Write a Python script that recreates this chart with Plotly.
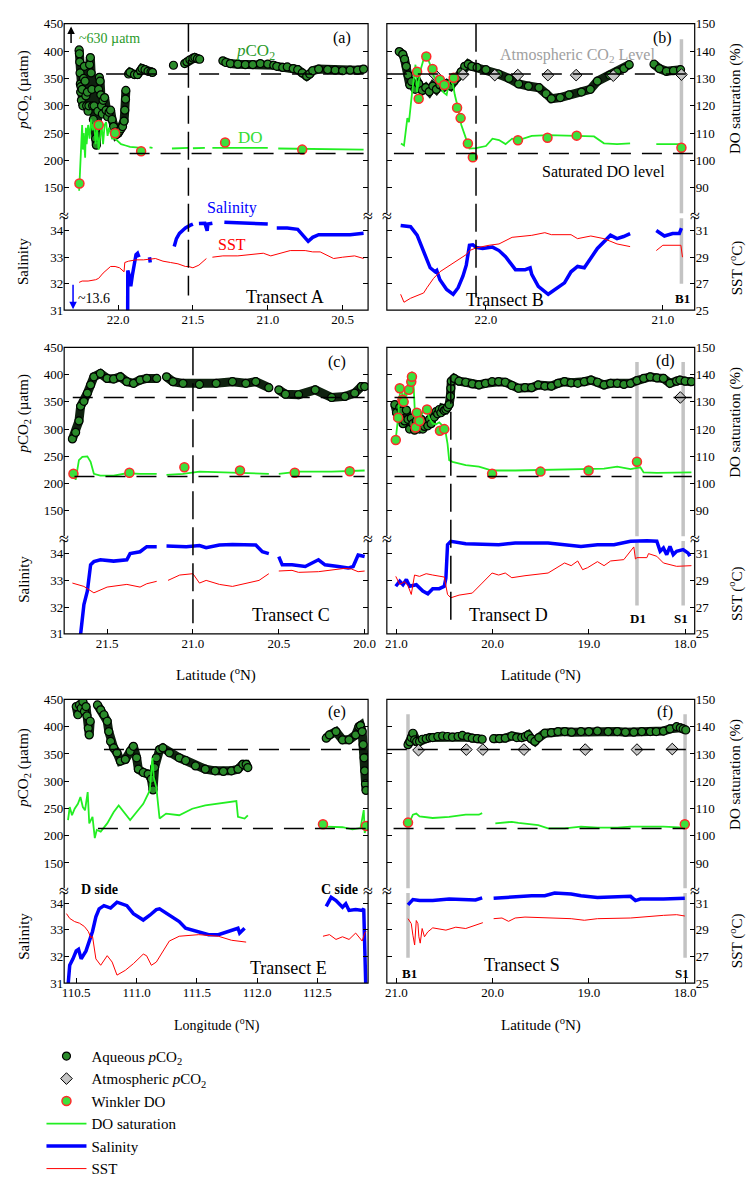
import plotly.graph_objects as go

# ---------------- DATA ----------------
# Panel (a) Transect A
a_pco2_lat = [22.26,22.258,22.256,22.254,22.252,22.25,22.248,22.245,22.24,22.235,22.23,22.225,22.22,22.215,22.21,22.205,22.2,22.195,22.19,22.185,22.18,22.175,22.17,22.165,22.16,22.155,22.15,22.145,22.14,22.135,22.13,22.125,22.12,22.115,22.11,22.105,22.1,22.09,22.08,22.07,22.06,22.05,22.04,22.03,22.02,22.01,22.0,21.99,21.98,21.97,21.96,21.955,21.95,21.948,None,21.93,21.92,21.89,21.87,21.85,21.84,21.82,21.80,21.78,21.77,None,21.63,None,21.555,21.54,21.52,21.50,21.487,21.47,21.455,None,21.30,21.28,21.25,21.20,21.15,21.10,21.05,21.00,20.96,None,20.94,20.90,20.87,20.83,20.80,20.77,20.74,20.72,20.70,20.66,20.60,20.55,20.50,20.45,20.40,20.36]
a_pco2 = [402,395,380,360,340,325,335,310,330,300,350,372,345,318,300,325,290,300,375,388,360,330,300,275,300,262,240,228,260,290,330,352,345,320,300,285,310,315,292,280,288,292,275,262,252,248,250,254,258,262,272,292,312,328,None,358,361,357,357,364,368,366,363,362,361,None,374,None,377,380,384,387,388,386,385,None,382,379,377,376,375,375,377,376,374,None,372,370,371,368,366,360,354,358,364,367,366,365,364,365,365,367]
a_do_lat = [22.26,22.255,22.25,22.245,22.24,22.235,22.23,22.22,22.215,22.21,22.2,22.19,22.18,22.17,22.16,22.15,22.14,22.13,22.12,22.11,22.1,22.09,22.08,22.07,22.06,22.05,22.04,22.02,22.0,21.98,21.95,21.92,21.88,21.85,None,21.79,21.77,None,21.64,21.58,21.53,None,21.50,21.42,None,21.37,21.2,21.0,None,20.93,20.7,20.5,20.36]
a_do = [89,94,100,108,113,104,110,101,112,106,113,108,115,111,114,106,112,104,108,113,106,113,114,109,112,110,108,108,107,106,105.5,105,104.8,104.6,None,104.8,104.6,None,104.4,104.5,104.6,None,104.5,104.6,None,104.6,104.7,104.6,None,104.4,104.3,104.2,104.0]
a_wink_lat = [22.258,22.129,22.02,21.846,21.285,20.77]
a_wink = [91.6,113,110,103.4,106.6,104]
a_sal_lat = [21.945,21.94,21.935,21.925,21.915,21.905,21.895,21.88,21.87,21.86,None,21.79,21.785,None,21.63,None,21.625,21.61,21.59,21.57,21.55,21.52,21.50,None,21.46,21.42,21.405,21.40,21.37,None,21.29,21.2,21.1,21.0,None,20.94,20.87,20.80,20.76,20.73,20.70,20.66,20.55,20.45,20.36]
a_sal = [13.6,31.5,32.5,32.3,31.9,32.3,32.7,33.1,33.15,33.0,None,33.0,32.8,None,33.1,None,33.4,33.7,33.9,34.0,34.1,34.2,34.25,None,34.27,34.28,34.0,34.25,34.28,None,34.32,34.3,34.28,34.25,None,34.1,34.1,34.05,33.8,33.6,33.75,33.85,33.85,33.85,33.9]
a_sst_lat = [22.26,22.24,22.20,22.15,22.13,22.10,22.05,22.02,21.99,21.96,21.955,21.93,21.88,21.83,21.75,21.70,21.65,21.60,21.55,21.53,21.50,21.46,21.41,None,21.37,21.30,21.20,21.10,21.03,20.98,20.92,20.85,20.75,20.70,20.65,20.56,20.50,20.42,20.36]
a_sst = [27.1,27.2,27.2,27.3,27.4,27.8,28.3,28.3,28.2,27.9,28.6,28.7,28.8,28.8,28.9,28.7,28.6,28.5,28.3,28.3,28.2,28.4,28.9,None,29.0,29.1,29.1,29.2,29.3,29.1,29.3,29.5,29.5,29.4,29.4,28.9,29.0,29.1,28.9]

# Panel (b) Transect B
b_pco2_lat = [22.49,22.47,22.46,22.45,22.44,22.43,22.42,22.40,22.38,22.36,22.34,22.32,22.30,22.28,22.26,22.24,22.22,22.20,22.18,22.16,22.14,22.12,22.10,22.08,22.05,22.00,21.93,21.87,21.815,21.76,21.70,21.66,21.63,21.58,21.53,21.46,21.41,21.37,21.30,21.26,21.22,21.19,None,21.05,21.02,20.98,20.94,20.90]
b_pco2 = [399,394,385,372,356,338,344,330,340,328,333,326,336,330,338,334,340,336,345,352,362,372,376,372,370,366,358,350,340,336,333,322,313,315,320,325,330,345,356,362,368,375,None,376,368,363,364,366]
b_atm_lat = [22.29,22.13,21.95,21.82,21.65,21.49,21.28,20.895]
b_atm = [357,357,356,356,356,356,355,357]
b_do_lat = [22.48,22.463,22.444,22.435,22.417,22.398,22.389,22.37,22.352,22.333,22.315,22.296,22.278,22.26,22.241,22.222,22.204,22.185,22.176,22.157,22.139,22.111,22.093,22.056,22.0,21.963,21.926,21.889,21.852,21.815,21.741,21.648,21.482,21.389,21.333,21.259,21.185,None,21.037,20.895]
b_do = [106.2,105.5,115.5,114,125,135,125,133,137,138,135,131,129,127.5,125,124,130,127.5,124,119,113,107.5,104.4,104.5,105.3,108,107.5,106,108,107.5,109,109.3,109,108.8,106.3,106,106.3,None,106,106]
b_wink_lat = [22.389,22.38,22.337,22.302,22.26,22.235,22.182,22.163,22.143,22.102,22.074,21.819,21.652,21.487,20.895]
b_wink = [132.4,122.6,138,133.4,129.5,127.6,130.2,119.3,115.5,106.2,101.2,107.4,108.3,109.1,104.7]
b_sal_lat = [22.482,22.426,22.389,22.352,22.315,22.287,22.278,22.26,22.222,22.185,22.157,22.13,22.111,22.093,22.074,22.056,22.019,21.963,21.926,21.889,21.87,21.833,21.778,21.75,21.741,21.704,21.648,21.593,21.556,21.519,21.482,21.444,21.407,21.37,21.296,21.259,21.222,21.185,None,21.037,20.991,20.945,20.907,20.895]
b_sal = [34.2,34.15,33.83,33.2,32.6,32.45,32.5,32.15,31.78,31.6,31.85,32.28,32.7,33.45,33.47,33.37,33.33,33.38,33.25,33.02,32.85,32.53,32.53,32.6,32.35,31.9,31.6,31.85,32.03,32.45,32.65,32.6,32.96,33.33,33.83,33.7,33.78,33.89,None,34.01,33.8,33.89,33.89,34.1]
b_sst_lat = [22.482,22.463,22.426,22.352,22.333,22.296,22.26,22.204,22.148,22.111,22.093,22.056,21.982,21.926,21.852,21.741,21.667,21.63,21.519,21.482,21.407,21.333,21.259,21.185,None,21.037,21.0,20.898,20.889]
b_sst = [26.2,25.6,25.9,26.3,26.7,27.4,27.9,28.4,28.9,29.2,29.5,29.7,29.9,30.0,30.5,30.65,30.85,30.7,30.7,30.4,30.6,30.4,30.0,29.8,None,29.5,29.9,29.9,29.0]

# Panel (c) Transect C
c_pco2_lat = [21.702,21.683,21.664,21.654,21.635,21.615,21.596,21.577,21.539,21.5,21.462,21.423,21.385,21.346,21.308,21.269,21.211,None,21.154,21.116,21.058,20.962,20.865,20.77,20.692,20.634,20.558,None,20.5,20.461,20.385,20.288,20.192,20.115,20.058,20.019,20.0]
c_pco2 = [282,294,315,342,351,366,381,396,402,393,392,396,387,384,390,393,393,None,396,387,384,382,384,387,384,387,376,None,372,364,363,372,358,360,366,378,378]
c_do_lat = [21.696,21.683,21.664,21.644,21.615,21.596,21.577,21.539,21.462,21.385,21.308,21.211,None,21.154,21.058,20.962,20.77,20.558,None,20.5,20.423,20.385,20.192,20.0]
c_do = [103.8,101.4,108.6,109.8,110,108,103.6,102.9,102.9,103.8,103.6,103.6,None,103.2,103.6,104.4,104,103.6,None,103.6,104,104.4,104.4,104.8]
c_wink_lat = [21.696,21.37,21.05,20.726,20.407,20.087]
c_wink = [103.6,104,106,104.8,104,104.5]
c_sal_lat = [21.66,21.654,21.635,21.615,21.596,21.577,21.539,21.462,21.385,21.366,21.308,21.269,21.211,None,21.154,21.039,20.962,20.923,20.846,20.77,20.634,20.596,20.558,None,20.5,20.48,20.423,20.346,20.269,20.231,20.154,20.096,20.067,20.038,20.0]
c_sal = [30.5,31.0,32.1,32.6,33.58,33.7,33.77,33.72,33.77,34.0,34.07,34.26,34.26,None,34.28,34.26,34.3,34.22,34.32,34.34,34.32,34.07,34.0,None,33.89,33.58,33.58,33.52,33.77,33.58,33.52,33.46,33.52,33.95,33.89]
c_sst_lat = [21.702,21.635,21.577,21.539,21.5,21.385,21.308,21.269,21.211,None,21.145,21.077,21.0,20.962,20.923,20.846,20.77,20.692,20.615,20.558,None,20.5,20.423,20.385,20.269,20.115,20.077,20.038,20.0]
c_sst = [28.8,28.55,28.07,28.3,28.5,28.7,28.5,28.75,28.93,None,29.0,29.4,29.5,28.8,29.0,28.7,28.55,28.8,29.0,29.5,None,29.7,29.75,29.6,29.65,29.9,29.85,29.65,29.7]

# Panel (d) Transect D
d_pco2_lat = [21.017,21.0,20.983,20.966,20.949,20.932,20.915,20.897,20.88,20.863,20.846,20.829,20.812,20.794,20.777,20.76,20.743,20.726,20.709,20.691,20.674,20.657,20.64,20.623,20.606,20.589,20.572,20.555,20.538,20.52,20.503,20.486,20.469,20.452,20.44,20.435,20.43,20.401,20.35,20.28,20.212,20.143,20.075,20.006,19.938,19.869,19.801,19.732,19.664,19.595,19.527,19.458,19.39,19.321,19.253,19.185,19.116,19.047,18.978,18.91,18.842,18.774,18.705,18.636,18.567,18.5,18.43,18.362,18.293,18.225,18.157,18.088,18.054,18.0,17.934]
d_pco2 = [345,330,321,340,333,310,315,335,318,300,320,310,298,315,306,300,318,300,305,312,306,318,310,327,322,332,328,336,330,338,334,336,340,345,360,375,388,393,388,386,383,381,384,387,387,386,380,375,376,376,381,379,379,384,387,385,384,387,390,386,381,384,384,382,384,389,393,396,394,393,384,388,390,388,387]
d_atm_lat = [18.05]
d_atm = [358]
d_do_lat = [21.007,20.983,20.966,20.949,20.932,20.915,20.897,20.863,20.836,20.822,20.801,20.788,20.76,20.743,20.708,20.691,20.657,20.623,20.589,20.555,20.52,20.486,20.469,20.452,20.418,20.28,20.143,20.006,19.766,19.424,19.082,18.842,18.705,18.567,18.465,18.431,18.294,18.1,17.934]
d_do = [116.4,124.2,132.6,135,130,133.8,132,138.6,141,136.2,120.6,125.4,124.2,125,127.2,127,124,122,121.8,122.5,121.2,118.2,114.6,108.6,108,106.8,106.2,104.8,104.8,105,105.2,105.5,106.2,105.3,106,104.1,103.9,104,104.1]
d_wink_lat = [21.007,20.983,20.966,20.938,20.925,20.870,20.846,20.839,20.801,20.788,20.760,20.682,20.548,20.503,20.006,19.503,19.003,18.5]
d_wink = [116,124.2,135,130.8,130,134.4,137.4,139.2,120.6,126,123,127.2,119.4,120,103.6,104.4,104.8,108]
d_sal_lat = [21.007,20.966,20.932,20.897,20.863,20.794,20.726,20.674,20.623,20.555,20.503,20.486,20.469,20.435,20.28,19.938,19.766,19.424,19.082,18.911,18.739,18.567,18.397,18.294,18.259,18.225,18.191,18.157,18.123,18.088,18.02,17.968,17.951]
d_sal = [32.78,32.97,32.84,33.03,32.78,32.84,32.6,32.5,32.69,32.69,32.78,33.09,34.33,34.46,34.37,34.33,34.4,34.4,34.27,34.33,34.33,34.46,34.48,34.46,34.09,34.21,33.96,34.27,33.96,34.09,34.15,34.02,33.9]
d_sst_lat = [21.007,20.966,20.915,20.88,20.846,20.812,20.76,20.691,20.623,20.503,20.469,20.435,20.349,20.212,20.109,20.006,19.938,19.869,19.801,19.664,19.424,19.253,19.184,19.116,19.065,19.013,18.911,18.842,18.774,18.637,18.533,18.516,18.5,18.397,18.38,18.294,18.225,18.088,17.934]
d_sst = [29.3,28.7,28.9,28.6,27.95,29.4,29.3,29.5,29.4,29.25,27.95,27.7,27.9,28.05,28.8,29.55,29.4,29.55,29.2,29.35,29.55,30.3,30.1,30.45,29.8,29.95,30.4,30.1,30.45,30.55,31.5,30.6,30.7,30.7,31.0,30.8,30.3,30.05,30.1]

# Panel (e) Transect E (longitude)
e_pco2_lon = [110.5,110.514,110.527,110.541,110.555,110.568,110.581,110.589,110.6,110.608,110.616,None,110.676,110.703,110.73,110.757,110.77,110.785,110.811,110.838,110.866,110.907,110.947,110.974,111.001,111.015,111.056,111.096,111.123,111.137,111.15,111.164,111.191,111.218,111.272,111.354,111.407,111.489,111.57,111.652,111.72,111.787,111.841,111.882,111.909,111.923,None,112.573,112.6,112.654,112.708,112.762,112.817,112.844,112.857,112.871,112.879,112.887,112.892,112.898,112.903]
e_pco2 = [437,422,440,434,446,428,437,420,397,385,410,None,440,431,422,410,391,373,361,352,337,340,355,364,343,322,316,313,304,284,325,343,358,361,352,343,338,328,322,319,318,319,322,331,331,325,None,379,385,391,376,376,385,400,402,391,367,343,319,295,283]
e_do_lon = [110.432,110.446,110.465,110.487,110.514,110.535,110.555,110.573,110.595,110.608,110.635,110.654,110.67,110.703,110.757,110.811,110.852,110.893,110.947,111.001,111.056,111.11,111.132,111.143,111.164,111.191,111.245,111.354,111.462,111.57,111.679,111.787,111.828,111.841,111.896,111.923,None,112.573,112.708,112.79,112.857,112.884,112.892,112.903]
e_do = [105.7,110.5,107.5,109.9,111.7,114.2,110.5,109.3,116,104.5,106.9,99.1,102.1,101.5,104.5,108.7,111.1,108.7,105.7,108.7,111.7,116.6,128.6,121.4,117.8,106.3,108.1,107.5,109.9,111.1,111.7,112.4,112.7,106.9,106.3,107.5,None,103.3,103.1,102.3,102.8,109.4,101,103]
e_wink_lon = [112.546,112.903]
e_wink = [104.2,103.6]
e_sal_lon = [110.432,110.446,110.473,110.5,110.519,110.541,110.581,110.608,110.635,110.663,110.69,110.73,110.785,110.838,110.92,110.974,111.056,111.11,111.164,111.191,111.272,111.354,111.407,111.516,111.598,111.679,111.76,111.841,111.855,111.896,None,112.573,112.614,112.654,112.708,112.735,112.762,112.817,112.871,112.884,112.892,112.903]
e_sal = [30.9,31.67,31.91,32.21,32.27,31.91,32.21,32.58,32.94,33.49,33.79,33.91,33.82,34.04,33.91,33.61,33.37,33.55,33.76,33.79,33.55,33.31,33.06,32.94,32.82,32.82,32.94,33.06,32.88,33.06,None,33.88,34.22,34.1,33.85,33.98,33.73,33.76,33.73,33.79,32.27,30.5]
e_sst_lon = [110.419,110.446,110.487,110.527,110.568,110.6,110.622,110.635,110.663,110.703,110.757,110.798,110.838,110.907,110.974,111.056,111.083,111.123,111.164,111.218,111.272,111.354,111.516,111.679,111.787,111.909,None,112.546,112.6,112.654,112.708,112.762,112.817,112.871,112.892,112.903]
e_sst = [30.22,29.86,29.62,29.5,29.25,28.88,28.4,28.52,26.82,26.34,27.06,26.58,25.6,25.96,26.46,27.18,27.06,26.34,26.58,27.42,28.16,28.52,28.64,28.52,28.22,28.08,None,28.52,28.64,28.28,28.48,28.28,28.76,28.16,28.76,28.88]

# Panel (f) Transect S
f_pco2_lat = [20.88,20.86,20.845,20.829,20.811,20.79,20.76,20.73,20.691,20.65,20.623,20.57,20.52,20.47,20.418,20.36,20.315,20.26,20.212,20.16,20.109,None,19.99,19.93,19.869,19.801,19.75,19.698,19.66,19.63,19.6,19.561,19.52,19.458,19.39,19.321,19.25,19.18,19.082,19.0,18.911,18.8,18.705,18.62,18.533,18.45,18.362,18.3,18.225,18.157,18.088,18.05,18.02,17.993]
f_pco2 = [367,372,380,388,376,373,373,377,378,380,380,382,383,382,381,382,384,381,379,378,377,None,378,378,379,383,380,380,382,385,378,373,380,388,389,391,391,390,391,391,392,391,391,390,390,391,391,391,392,396,400,398,396,394]
f_atm_lat = [20.771,20.274,20.102,19.675,19.038,18.5,18.133]
f_atm = [357,358,358,358,358,358,359]
f_do_lat = [20.863,20.829,20.794,20.76,20.623,20.452,20.28,20.143,20.109,None,19.972,19.869,19.801,19.732,19.63,19.527,19.424,19.253,19.082,18.911,18.705,18.567,18.397,18.225,18.003]
f_do = [105.1,107.7,108.1,107.1,106.5,106.9,107.7,107.7,108.3,None,104.5,104.7,105.1,104.7,104.2,103.9,102.7,102.7,103.3,103.0,103.0,103.3,103.3,103.3,103.0]
f_wink_lat = [20.88,18.003]
f_wink = [104.8,104.2]
f_sal_lat = [20.88,20.829,20.76,20.623,20.452,20.28,20.178,20.109,None,19.99,19.766,19.595,19.458,19.356,19.184,19.082,18.911,18.705,18.567,18.516,18.465,18.225,18.003]
f_sal = [33.94,34.14,34.1,34.1,34.16,34.14,34.12,34.2,None,34.19,34.25,34.28,34.28,34.38,34.35,34.28,34.22,34.26,34.26,34.1,34.16,34.16,34.19]
f_sst_lat = [20.88,20.846,20.829,20.811,20.794,20.777,20.767,20.753,20.733,20.709,20.674,20.623,20.486,20.383,20.28,20.212,20.143,20.102,None,19.99,19.903,19.835,19.766,19.664,19.424,19.184,19.047,18.911,18.567,18.465,18.225,18.088,18.003]
f_sst = [29.84,29.47,28.6,27.86,29.7,29.47,28.48,28.0,29.1,28.48,28.85,29.15,28.98,29.2,29.1,29.27,29.47,29.54,None,29.84,29.89,29.64,29.89,29.96,29.89,29.84,29.72,29.84,29.89,29.96,30.09,30.14,30.04]

ATM_PCO2_LEVEL = 358      # atmospheric CO2 reference line (uatm)
DO_SAT_LEVEL = 102.6      # saturated DO level (%)

# Reference markers (positions on the x axis)
VLINE = {1: 21.53, 2: 22.056, 3: 21.0, 4: 20.435}
STATIONS = {2: [20.895], 4: [18.5, 18.02], 6: [20.88, 18.0]}

# ---------------- LAYOUT GEOMETRY ----------------
W, H = 755, 1185
def px(x): return x / W
def py(y): return 1 - y / H

COLS = [(63, 371), (390, 702)]
ROWS = [(17, 213, 310), (348, 543, 641), (708, 903, 998)]
XRANGES = {1: [22.36, 20.33], 2: [22.56, 20.82], 3: [21.75, 19.98],
           4: [21.1, 17.9], 5: [110.40, 112.92], 6: [21.1, 17.9]}
XTICKS = {1: [22.0, 21.5, 21.0, 20.5], 2: [22.0, 21.0], 3: [21.5, 21.0, 20.5, 20.0],
          4: [21.0, 20.0, 19.0, 18.0], 5: [110.5, 111.0, 111.5, 112.0, 112.5], 6: [21.0, 20.0, 19.0, 18.0]}
SALTOP = {0: 34.58, 1: 34.58, 2: 34.49}
HDASH = {1: ([22.08, 20.36], [22.13, 20.36]), 2: ([22.56, 20.82], [22.52, 20.82]),
         3: ([21.70, 20.0], [21.69, 20.0]), 4: ([21.02, 17.93], [21.02, 17.93]),
         5: ([110.73, 112.9], [110.68, 112.9]), 6: ([21.1, 17.9], [21.03, 18.0])}

FONT = 'Liberation Serif, Times New Roman, serif'
PCO2_FILL = '#2a8a2a'
RIBBON = '#0f220f'
DO_GREEN = '#22ee22'

fig = go.Figure()

panels = {
    1: (a_pco2_lat, a_pco2, None, None, a_do_lat, a_do, a_wink_lat, a_wink, a_sal_lat, a_sal, a_sst_lat, a_sst),
    2: (b_pco2_lat, b_pco2, b_atm_lat, b_atm, b_do_lat, b_do, b_wink_lat, b_wink, b_sal_lat, b_sal, b_sst_lat, b_sst),
    3: (c_pco2_lat, c_pco2, None, None, c_do_lat, c_do, c_wink_lat, c_wink, c_sal_lat, c_sal, c_sst_lat, c_sst),
    4: (d_pco2_lat, d_pco2, d_atm_lat, d_atm, d_do_lat, d_do, d_wink_lat, d_wink, d_sal_lat, d_sal, d_sst_lat, d_sst),
    5: (e_pco2_lon, e_pco2, None, None, e_do_lon, e_do, e_wink_lon, e_wink, e_sal_lon, e_sal, e_sst_lon, e_sst),
    6: (f_pco2_lat, f_pco2, f_atm_lat, f_atm, f_do_lat, f_do, f_wink_lat, f_wink, f_sal_lat, f_sal, f_sst_lat, f_sst),
}

def aid(prefix, n):
    return prefix if n == 1 else f'{prefix}{n}'

shapes = []
annotations = []
layout_axes = {}
legend_done = set()

def leg(name):
    if name in legend_done:
        return False
    legend_done.add(name)
    return True

RANK = {'Aqueous': 1, 'Atm': 2, 'Wink': 3, 'DO': 4, 'Sal': 5, 'SST': 6}

for k in range(1, 7):
    row = (k - 1) // 2
    col = (k - 1) % 2
    x0, x1 = COLS[col]
    yt, yb_, ybt = ROWS[row]
    xa = aid('x', k)
    nu, ndo, nl, nsst = 4 * k - 3, 4 * k - 2, 4 * k - 1, 4 * k
    yu, ydo, yl, ysst = aid('y', nu), aid('y', ndo), aid('y', nl), aid('y', nsst)
    st = SALTOP[row]
    sst_top = 25 + 2 * (st - 31)

    tickfont = dict(family=FONT, size=13, color='black')
    layout_axes[aid('xaxis', k)] = dict(
        domain=[px(x0), px(x1)], anchor=yl, range=XRANGES[k], tickvals=XTICKS[k],
        tickformat='.1f', ticks='inside', ticklen=5, tickcolor='black', showgrid=False,
        zeroline=False, showline=False, tickfont=tickfont)
    layout_axes[aid('yaxis', nu)] = dict(
        domain=[py(yb_), py(yt)], anchor=xa, range=[100, 450],
        tickvals=[150, 200, 250, 300, 350, 400, 450], ticks='inside', ticklen=5,
        tickcolor='black', showgrid=False, zeroline=False, showline=False,
        showticklabels=(col == 0), tickfont=tickfont)
    layout_axes[aid('yaxis', ndo)] = dict(
        overlaying=yu, side='right', anchor=xa, range=[80, 150],
        tickvals=[90, 100, 110, 120, 130, 140, 150], ticks='inside', ticklen=5,
        tickcolor='black', showgrid=False, zeroline=False, showline=False,
        showticklabels=(col == 1), tickfont=tickfont)
    layout_axes[aid('yaxis', nl)] = dict(
        domain=[py(ybt), py(yb_)], anchor=xa, range=[31, st],
        tickvals=[31, 32, 33, 34], ticks='inside', ticklen=5, tickcolor='black',
        showgrid=False, zeroline=False, showline=False,
        showticklabels=(col == 0), tickfont=tickfont)
    layout_axes[aid('yaxis', nsst)] = dict(
        overlaying=yl, side='right', anchor=xa, range=[25, sst_top],
        tickvals=[25, 27, 29, 31], ticks='inside', ticklen=5, tickcolor='black',
        showgrid=False, zeroline=False, showline=False,
        showticklabels=(col == 1), tickfont=tickfont)

    (pxs, pys, axs, ays, dxs, dys, wxs, wys, sxs, sys_, txs, tys) = panels[k]

    # aqueous pCO2 ribbon + markers
    fig.add_trace(go.Scatter(x=pxs, y=pys, xaxis=xa, yaxis=yu, mode='lines',
                             line=dict(color=RIBBON, width=9), showlegend=False,
                             hoverinfo='skip'))
    fig.add_trace(go.Scatter(x=pxs, y=pys, xaxis=xa, yaxis=yu, mode='markers',
                             marker=dict(size=8, color=PCO2_FILL, line=dict(color='black', width=1.2)),
                             name='Aqueous <i>p</i>CO<sub>2</sub>', showlegend=leg('Aqueous'),
                             legendrank=RANK['Aqueous']))
    if axs is not None:
        fig.add_trace(go.Scatter(x=axs, y=ays, xaxis=xa, yaxis=yu, mode='markers',
                                 marker=dict(size=9, symbol='diamond', color='#c4c4c4',
                                             line=dict(color='black', width=1)),
                                 name='Atmospheric <i>p</i>CO<sub>2</sub>', showlegend=leg('Atm'),
                                 legendrank=RANK['Atm']))
    # DO saturation
    fig.add_trace(go.Scatter(x=dxs, y=dys, xaxis=xa, yaxis=ydo, mode='lines',
                             line=dict(color=DO_GREEN, width=1.8),
                             name='DO saturation', showlegend=leg('DO'), legendrank=RANK['DO']))
    fig.add_trace(go.Scatter(x=wxs, y=wys, xaxis=xa, yaxis=ydo, mode='markers',
                             marker=dict(size=9, color='#3ce03c', line=dict(color='#ff2a2a', width=1.5)),
                             name='Winkler DO', showlegend=leg('Wink'), legendrank=RANK['Wink']))
    # Salinity, SST
    fig.add_trace(go.Scatter(x=sxs, y=sys_, xaxis=xa, yaxis=yl, mode='lines',
                             line=dict(color='#0000ff', width=3.5),
                             name='Salinity', showlegend=leg('Sal'), legendrank=RANK['Sal']))
    fig.add_trace(go.Scatter(x=txs, y=tys, xaxis=xa, yaxis=ysst, mode='lines',
                             line=dict(color='#ff0000', width=1),
                             name='SST', showlegend=leg('SST'), legendrank=RANK['SST']))

    # horizontal reference lines
    (ha, hb) = HDASH[k]
    shapes.append(dict(type='line', xref=xa, yref=yu, x0=ha[0], x1=ha[1],
                       y0=ATM_PCO2_LEVEL, y1=ATM_PCO2_LEVEL,
                       line=dict(color='black', width=1.5, dash='20px,11px')))
    shapes.append(dict(type='line', xref=xa, yref=ydo, x0=hb[0], x1=hb[1],
                       y0=DO_SAT_LEVEL, y1=DO_SAT_LEVEL,
                       line=dict(color='black', width=1.5, dash='20px,11px')))

    # station lines
    for s in STATIONS.get(k, []):
        top = {2: 33, 4: 363, 6: 723}[k]
        bot = {2: 283, 4: 612, 6: 972}[k]
        shapes.append(dict(type='line', xref=xa, yref='paper', x0=s, x1=s,
                           y0=py(top), y1=py(yb_ - 2), line=dict(color='#c3c3c3', width=3.5),
                           layer='below'))
        shapes.append(dict(type='line', xref=xa, yref='paper', x0=s, x1=s,
                           y0=py(yb_ + 3), y1=py(bot), line=dict(color='#c3c3c3', width=3.5),
                           layer='below'))

    # border box
    shapes.append(dict(type='rect', xref='paper', yref='paper', x0=px(x0), x1=px(x1),
                       y0=py(ybt), y1=py(yt), line=dict(color='black', width=1.2)))
    # axis break marks
    for xe in (x0, x1):
        shapes.append(dict(type='rect', xref='paper', yref='paper', x0=px(xe - 3), x1=px(xe + 3),
                           y0=py(yb_ + 2), y1=py(yb_ - 2), line=dict(width=0), fillcolor='white'))
        annotations.append(dict(text='≈', x=px(xe), y=py(yb_ + 1), xref='paper', yref='paper',
                                showarrow=False, xanchor='center', yanchor='middle',
                                borderpad=0, height=12,
                                font=dict(family=FONT, size=18, color='black')))

# vertical dashed lines
VSPAN = {1: (17, 295), 2: (17, 297), 3: (348, 630), 4: (377, 627)}
for k, lat in VLINE.items():
    a, b = VSPAN[k]
    shapes.append(dict(type='line', xref=aid('x', k), yref='paper', x0=lat, x1=lat,
                       y0=py(a), y1=py(b), line=dict(color='black', width=1.5, dash='28px,8px')))

def ann(text, x, y, size=15, color='black', xanchor='center', angle=0):
    annotations.append(dict(text=text, x=px(x), y=py(y), xref='paper', yref='paper',
                            showarrow=False, xanchor=xanchor, yanchor='middle', textangle=angle,
                            font=dict(family=FONT, size=size, color=color)))

# panel labels and text
ann('(a)', 345, 32, 16); ann('(b)', 669, 32, 16); ann('(c)', 340, 363, 16)
ann('(d)', 672, 362, 16); ann('(e)', 340, 721, 16); ann('(f)', 672, 721, 16)
ann('~630 µatm', 76, 32, 14, '#2a9a2a', 'left')
ann('<i>p</i>CO<sub>2</sub>', 257, 46, 17, '#2a9a2a')
ann('DO', 252, 133, 17, '#33dd33')
ann('Salinity', 233, 206, 16, '#0000ff')
ann('SST', 233, 243, 16, '#ff0000')
ann('~13.6', 75, 298, 14, 'black', 'left')
ann('Transect A', 287, 296, 18)
ann('Atmospheric CO<sub>2</sub> Level', 583, 50, 16, '#a0a0a0')
ann('Saturated DO level', 610, 168, 16)
ann('Transect B', 510, 300, 18)
ann('<b>B1</b>', 690, 298, 13)
ann('Transect C', 293, 622, 18)
ann('Transect D', 513, 622, 18)
ann('<b>D1</b>', 645, 625, 13); ann('<b>S1</b>', 688, 625, 13)
ann('<b>D side</b>', 99, 902, 14); ann('<b>C side</b>', 342, 902, 14)
ann('Transect E', 290, 983, 18)
ann('Transect S', 527, 979, 18)
ann('<b>B1</b>', 413, 988, 13); ann('<b>S1</b>', 689, 988, 13)

# arrows for off-scale values
annotations.append(dict(x=px(70), y=py(20), ax=0, ay=18, xref='paper', yref='paper', text='',
                        showarrow=True, arrowhead=2, arrowsize=1, arrowwidth=1.5, arrowcolor='black'))
annotations.append(dict(x=px(72), y=py(309), ax=0, ay=-26, xref='paper', yref='paper', text='',
                        showarrow=True, arrowhead=2, arrowsize=1, arrowwidth=1.5, arrowcolor='#0000ff'))

# axis titles
for yc in (85, 416, 778):
    ann('<i>p</i>CO<sub>2</sub> (µatm)', 22, yc, 15, angle=-90)
for yc in (260, 585, 950):
    ann('Salinity', 22, yc, 15, angle=-90)
for yc in (94, 425, 785):
    ann('DO saturation (%)', 744, yc, 15, angle=-90)
for yc in (267, 600, 955):
    ann('SST (<sup>o</sup>C)', 744, yc, 15, angle=-90)
ann('Latitude (<sup>o</sup>N)', 217, 682, 15)
ann('Latitude (<sup>o</sup>N)', 546, 682, 15)
ann('Longitude (<sup>o</sup>N)', 218, 1040, 14)
ann('Latitude (<sup>o</sup>N)', 546, 1040, 15)

fig.update_layout(
    width=W, height=H, margin=dict(l=0, r=0, t=0, b=0),
    paper_bgcolor='white', plot_bgcolor='rgba(0,0,0,0)',
    font=dict(family=FONT, size=13, color='black'),
    shapes=shapes, annotations=annotations,
    showlegend=True,
    legend=dict(x=px(40), y=py(1056), xanchor='left', yanchor='top',
                font=dict(family=FONT, size=15, color='black'),
                bgcolor='rgba(0,0,0,0)', itemwidth=40, tracegroupgap=0, traceorder='normal'),
    **layout_axes)

fig.write_html('out.html', config={'displayModeBar': False},
               post_script="document.body.style.margin='0px';")
